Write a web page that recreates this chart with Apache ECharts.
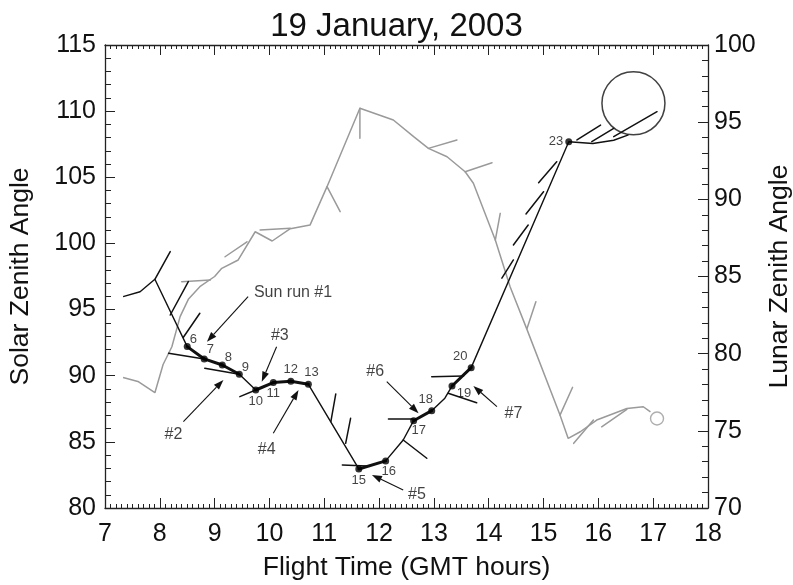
<!DOCTYPE html>
<html><head><meta charset="utf-8">
<script src="https://cdn.jsdelivr.net/npm/echarts@6/dist/echarts.min.js"></script>
<style>html,body{margin:0;padding:0;background:#fff}#c{width:793px;height:585px}</style>
</head><body><div id="c"></div>
<script>
// ---------- DATA ----------
const xTicks = [7, 8, 9, 10, 11, 12, 13, 14, 15, 16, 17, 18];
// Solar zenith track (left axis)
const solarPathH = [7.33, 7.64, 7.91, 8.50, 8.81, 9.14, 9.45, 9.75, 10.07, 10.39, 10.71, 11.63, 12.12, 12.44, 12.63, 12.96, 13.20, 13.33, 13.68, 15.46, 15.90, 16.28, 16.55];
const solarPathV = [95.98, 96.35, 97.29, 92.2, 91.27, 90.81, 90.11, 88.92, 89.48, 89.58, 89.35, 82.95, 83.56, 85.14, 86.6, 87.36, 88.3, 89.22, 90.61, 107.69, 107.55, 107.8, 108.2];
// Numbered points
const pointNums = ['6', '7', '8', '9', '10', '11', '12', '13', '15', '16', '17', '18', '19', '20', '23'];
const pointH = [8.50, 8.81, 9.14, 9.45, 9.75, 10.07, 10.39, 10.71, 11.63, 12.12, 12.63, 12.96, 13.33, 13.68, 15.46];
const pointSZA = [92.2, 91.27, 90.81, 90.11, 88.92, 89.48, 89.58, 89.35, 82.95, 83.56, 86.6, 87.36, 89.22, 90.61, 107.69];
// Sun runs (pairs of point indices)
const runs = [[0, 1], [1, 2], [2, 3], [4, 5], [5, 6], [6, 7], [8, 9], [10, 11], [12, 13]];
// Wind barbs on solar track [h1, v1, h2, v2]
const solarBarbs = [
  [7.91, 97.29, 8.19, 99.38], [8.19, 94.59, 8.52, 97.11], [8.43, 92.91, 8.73, 94.72],
  [8.16, 91.70, 8.81, 91.27], [8.82, 90.56, 9.45, 90.11], [9.46, 88.42, 9.75, 88.92],
  [11.12, 86.53, 11.21, 88.62], [11.39, 84.89, 11.48, 86.78], [11.33, 83.25, 11.78, 83.18],
  [12.17, 86.73, 12.62, 86.73], [12.44, 85.14, 12.87, 83.76], [12.96, 89.93, 13.54, 89.98],
  [13.26, 88.67, 13.78, 87.96], [14.91, 104.59, 15.24, 106.18], [14.68, 102.23, 15.00, 103.91],
  [14.45, 99.88, 14.72, 101.39], [14.24, 97.37, 14.45, 98.75], [15.61, 107.82, 16.04, 108.95],
  [15.88, 107.69, 16.28, 108.70], [16.28, 108.07, 17.07, 109.96]
];
const loopCircle = [[16.64, 110.59]];
// Lunar zenith track (right axis)
const lunarPathH = [7.33, 7.60, 7.91, 8.06, 8.22, 8.37, 8.52, 8.73, 9.00, 9.13, 9.43, 9.74, 10.05, 10.38, 10.74, 11.05, 11.65, 12.26, 12.63, 12.90, 13.24, 13.57, 13.72, 14.12, 14.39, 14.69, 15.30, 15.45, 15.67, 15.97, 16.52, 16.82, 16.95];
const lunarPathV = [78.46, 78.2, 77.47, 79.3, 80.45, 82.4, 83.52, 84.34, 85.0, 85.53, 86.07, 87.9, 87.3, 88.1, 88.33, 90.82, 95.9, 95.14, 94.06, 93.3, 92.76, 91.79, 91.04, 87.36, 84.34, 81.64, 76.02, 74.51, 74.94, 75.7, 76.45, 76.56, 76.23];
const lunarBarbs = [
  [11.65, 95.9, 11.65, 93.96], [11.05, 90.82, 11.29, 89.2], [9.19, 86.28, 9.59, 87.25],
  [8.40, 84.66, 8.92, 84.77], [12.90, 93.3, 13.42, 93.84], [13.57, 91.79, 14.06, 92.37],
  [14.12, 87.36, 14.21, 89.09], [14.70, 81.64, 14.86, 83.36], [15.30, 76.02, 15.53, 77.82],
  [15.55, 74.19, 15.91, 75.70], [16.06, 75.26, 16.52, 76.39], [9.83, 88.01, 10.38, 88.12]
];
const lunarEndCircle = [[17.07, 75.8]];
// Annotations
const noteText = ['Sun run #1', '#2', '#3', '#4', '#5', '#6', '#7'];
const noteH = [10.43, 8.25, 10.19, 9.95, 12.69, 11.93, 14.45];
const noteV = [96.25, 85.52, 93.0, 84.39, 80.99, 90.31, 87.16];
const arrows = [
  [9.61, 95.98, 8.86, 92.57], [8.43, 86.53, 9.16, 89.68], [10.13, 92.19, 9.86, 89.55],
  [10.07, 85.65, 10.53, 88.92], [12.44, 81.36, 11.87, 82.5], [12.14, 89.55, 12.72, 87.16],
  [14.15, 87.66, 13.72, 89.23]
];

// ---------- STYLE / BUILD ----------
const FONT = 'Liberation Sans, Arial, Helvetica, sans-serif';
const zip = (a, b) => a.map((v, i) => [v, b[i]]);
const labelPlace = [
  ['right', [-3, -7]], ['right', [-3, -9]], ['right', [-3, -8]], ['right', [-3, -7]],
  ['bottom', [0, -1]], ['bottom', [0, -1]], ['top', [0, 0]], ['top', [3, 0]],
  ['bottom', [0, -1]], ['bottom', [3, -1]], ['bottom', [5, -2]], ['top', [-6, 1]],
  ['bottom', [12, -5]], ['top', [-11, 1]], ['left', [0, 0]]
];

function segSeries(data, yIdx, color, width) {
  return {
    type: 'custom', yAxisIndex: yIdx, xAxisIndex: 0, silent: true, z: 3,
    data: data,
    renderItem: function (params, api) {
      const p1 = api.coord([api.value(0), api.value(1)]);
      const p2 = api.coord([api.value(2), api.value(3)]);
      return { type: 'line', shape: { x1: p1[0], y1: p1[1], x2: p2[0], y2: p2[1] },
        style: { stroke: color, lineWidth: width, lineCap: 'round' } };
    }
  };
}

const runSegs = runs.map(r => [pointH[r[0]], pointSZA[r[0]], pointH[r[1]], pointSZA[r[1]]]);

const axisLineStyle = { lineStyle: { color: '#222', width: 1.3 } };
const xAxisBase = {
  type: 'value', min: 7, max: 18, interval: 1,
  axisLine: axisLineStyle,
  axisTick: { inside: true, length: 10, lineStyle: { color: '#222' } },
  minorTick: { show: true, splitNumber: 10, length: 4, lineStyle: { color: '#222' } },
  splitLine: { show: false }
};
const yName = { fontFamily: FONT, fontSize: 26.5, color: '#111' };
const tickFont = { fontFamily: FONT, fontSize: 25, color: '#111' };

const option = {
  animation: false,
  backgroundColor: '#fff',
  title: { text: '19 January, 2003', left: 'center', top: 5,
    textStyle: { fontFamily: FONT, fontSize: 33, fontWeight: 'normal', color: '#111' } },
  grid: { left: 105, right: 85, top: 45, bottom: 77, containLabel: false, outerBoundsMode: 'none' },
  xAxis: [
    Object.assign({}, xAxisBase, { position: 'bottom',
      name: 'Flight Time (GMT hours)', nameLocation: 'middle', nameGap: 46,
      nameTextStyle: yName,
      axisLabel: Object.assign({ margin: 14 }, tickFont) }),
    Object.assign({}, xAxisBase, { position: 'top', axisLabel: { show: false } })
  ],
  yAxis: [
    { type: 'value', min: 80, max: 115, interval: 5, position: 'left',
      name: 'Solar Zenith Angle', nameLocation: 'middle', nameGap: 71, nameRotate: 90,
      nameTextStyle: yName,
      axisLine: { show: true, lineStyle: { color: '#222', width: 1.3 } },
      axisTick: { inside: true, length: 10, lineStyle: { color: '#222' } },
      minorTick: { show: true, splitNumber: 5, length: 6, lineStyle: { color: '#222' } },
      axisLabel: Object.assign({ margin: 9 }, tickFont),
      splitLine: { show: false } },
    { type: 'value', min: 70, max: 100, interval: 5, position: 'right',
      name: 'Lunar Zenith Angle', nameLocation: 'middle', nameGap: 56, nameRotate: 90,
      nameTextStyle: yName,
      axisLine: { show: true, lineStyle: { color: '#222', width: 1.3 } },
      axisTick: { inside: true, length: 10, lineStyle: { color: '#222' } },
      minorTick: { show: true, splitNumber: 5, length: 6, lineStyle: { color: '#222' } },
      axisLabel: Object.assign({ margin: 6 }, tickFont),
      splitLine: { show: false } }
  ],
  series: [
    { type: 'line', yAxisIndex: 1, data: zip(lunarPathH, lunarPathV), showSymbol: false,
      lineStyle: { color: '#9a9a9a', width: 1.5 }, silent: true, z: 2 },
    Object.assign(segSeries(lunarBarbs, 1, '#9a9a9a', 1.5), { z: 2 }),
    { type: 'scatter', yAxisIndex: 1, data: lunarEndCircle, symbol: 'circle', symbolSize: 13,
      itemStyle: { color: 'rgba(0,0,0,0)', borderColor: '#9a9a9a', borderWidth: 1.4 }, silent: true, z: 2 },
    { type: 'line', yAxisIndex: 0, data: zip(solarPathH, solarPathV), showSymbol: false,
      lineStyle: { color: '#111', width: 1.4 }, silent: true, z: 4 },
    segSeries(solarBarbs, 0, '#111', 1.5),
    Object.assign(segSeries(runSegs, 0, '#111', 3), { z: 5 }),
    { type: 'scatter', yAxisIndex: 0, data: loopCircle, symbol: 'circle', symbolSize: 63,
      itemStyle: { color: 'rgba(0,0,0,0)', borderColor: '#111', borderWidth: 1.5 }, silent: true, z: 4 },
    { type: 'scatter', yAxisIndex: 0, z: 6, silent: true,
      data: pointH.map((h, i) => ({ value: [h, pointSZA[i]], name: pointNums[i],
        label: { position: labelPlace[i][0], offset: labelPlace[i][1] } })),
      symbol: 'circle', symbolSize: 7, itemStyle: { color: '#000' },
      label: { show: true, formatter: p => p.name, fontFamily: FONT, fontSize: 13, color: '#111', distance: 2 } },
    { type: 'custom', yAxisIndex: 0, silent: true, z: 6, data: arrows,
      renderItem: function (params, api) {
        const p1 = api.coord([api.value(0), api.value(1)]);
        const p2 = api.coord([api.value(2), api.value(3)]);
        const ang = Math.atan2(p2[1] - p1[1], p2[0] - p1[0]);
        const L = 10, W = 3.5;
        const bx = p2[0] - L * Math.cos(ang), by = p2[1] - L * Math.sin(ang);
        const nx = -Math.sin(ang) * W, ny = Math.cos(ang) * W;
        return { type: 'group', children: [
          { type: 'line', shape: { x1: p1[0], y1: p1[1], x2: bx, y2: by }, style: { stroke: '#111', lineWidth: 1.1 } },
          { type: 'polygon', shape: { points: [[p2[0], p2[1]], [bx + nx, by + ny], [bx - nx, by - ny]] }, style: { fill: '#111' } }
        ] };
      } },
    { type: 'scatter', yAxisIndex: 0, z: 6, silent: true, symbolSize: 0,
      data: noteH.map((h, i) => ({ value: [h, noteV[i]], name: noteText[i] })),
      label: { show: true, position: 'inside', formatter: p => p.name, fontFamily: FONT, fontSize: 16, color: '#111' } }
  ]
};
echarts.init(document.getElementById('c')).setOption(option);
</script></body></html>
